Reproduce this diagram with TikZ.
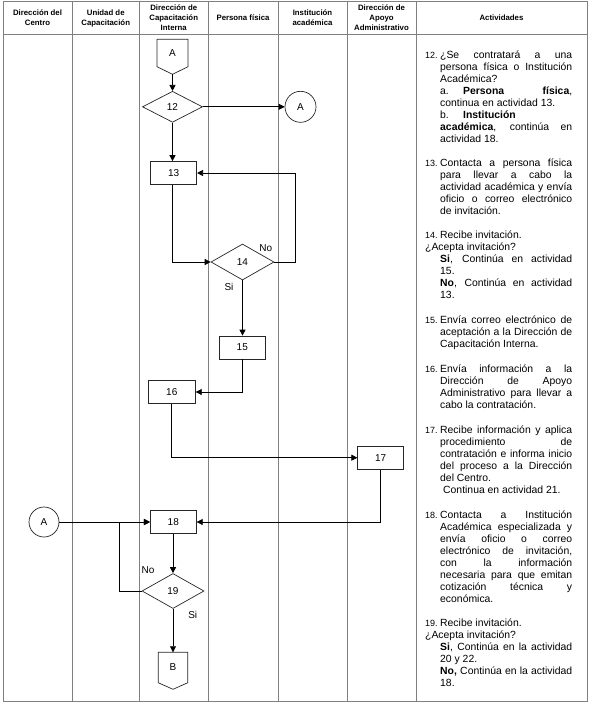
\documentclass[tikz,border=0pt]{standalone}
\usepackage{fontspec}
\setmainfont{Liberation Sans}
\usetikzlibrary{shapes.geometric,arrows.meta,calc}
\newcommand{\J}[1]{\makebox[132pt][s]{#1}}
\newcommand{\NumBox}[1]{\makebox[15pt][l]{\fontsize{9}{12}\selectfont #1}}
\newcommand{\Ind}{\hspace*{15pt}}
\begin{document}
\begin{tikzpicture}[x=1pt,y=-1pt,
  gridline/.style={draw=black!50, line width=0.8pt},
  hdr/.style={font=\fontsize{7.8}{10}\selectfont\bfseries, align=center, inner sep=0},
  act/.style={font=\fontsize{10.4}{12}\selectfont, align=left, inner sep=0, anchor=north west},
  procbox/.style={draw=black!85, line width=0.7pt, minimum width=46pt, minimum height=23pt, inner sep=0, font=\fontsize{10}{12}\selectfont},
  decision/.style={draw=black!85, shape=diamond, line width=0.7pt, inner sep=0, font=\fontsize{10}{12}\selectfont},
  connector/.style={draw=black!85, circle, line width=0.7pt, minimum size=31pt, inner sep=0, font=\fontsize{10}{12}\selectfont},
  shapeline/.style={draw=black!85, line width=0.7pt},
  flow/.style={draw=black, line width=0.7pt, -{Triangle[length=6pt,width=6pt]}},
  lbl/.style={font=\fontsize{10}{12}\selectfont, inner sep=0}
]
\useasboundingbox (0,0) rectangle (590,705);
% table
\draw[gridline] (3,1) rectangle (587,701);
\draw[gridline] (3,34.5) -- (587,34.5);
\foreach \x in {72,139.5,208,278,347,416} \draw[gridline] (\x,1) -- (\x,701);
% headers
\node[hdr] (h1) at (37.5,18) {Dirección del\\Centro};
\node[hdr] (h2) at (105.75,18) {Unidad de\\Capacitación};
\node[hdr] (h3) at (173.75,17.5) {Dirección de\\Capacitación\\Interna};
\node[hdr] (h4) at (243,18) {Persona física};
\node[hdr] (h5) at (312.5,18) {Institución\\académica};
\node[hdr] (h6) at (381.5,17.5) {Dirección de\\Apoyo\\Administrativo};
\node[hdr] (h7) at (501.5,18) {Actividades};

% shapes
\node[lbl] (offA) at (172.5,53) {A};
\draw[shapeline] (157,39.3) -- (188,39.3) -- (188,66.7) -- (172.5,74.3) -- (157,66.7) -- cycle;
\coordinate (offAtip) at (172.5,74.3);
\node[decision, minimum width=60pt, minimum height=31pt] (d12) at (172.5,106.8) {12};
\node[connector] (cA) at (300.5,106.8) {A};
\node[procbox] (b13) at (173.7,173) {13};
\node[decision, minimum width=63pt, minimum height=36pt] (d14) at (242.5,262) {14};
\node[procbox] (b15) at (242.3,347.5) {15};
\node[procbox, minimum width=47pt] (b16) at (171.8,392) {16};
\node[procbox] (b17) at (380.7,457.7) {17};
\node[procbox] (b18) at (173.3,522) {18};
\node[connector, minimum size=30pt] (cA2) at (44,522) {A};
\node[decision, minimum width=62pt, minimum height=35pt] (d19) at (173,591) {19};
\node[lbl] (offB) at (173,666.7) {B};
\draw[shapeline] (158.2,652.3) -- (187.8,652.3) -- (187.8,682.7) -- (173,689.3) -- (158.2,682.7) -- cycle;
\coordinate (offBtop) at (173,652.3);

% labels
\node[lbl] (no14) at (265.7,248.3) {No};
\node[lbl] (si14) at (229,286.7) {Si};
\node[lbl] (no19) at (148,570) {No};
\node[lbl] (si19) at (192.7,615) {Si};

% connectors
\draw[flow] (offAtip) -- (d12.north);
\draw[flow] (d12.east) -- (cA.west);
\draw[flow] (d12.south) -- (d12.south |- b13.north);
\draw[flow] (b13.south -| d12.south) |- (d14.west);
\draw[flow] (d14.east) -- ++(21,0) |- (b13.east);
\draw[flow] (d14.south) -- (d14.south |- b15.north);
\draw[flow] (b15.south) |- (b16.east);
\draw[flow] (b16.south) |- (b17.west);
\draw[flow] (b17.south) |- (b18.east);
\draw[flow] (cA2.east) -- (b18.west);
\draw[flow] (d19.west) -- ++(-22.5,0) |- (b18.west);
\draw[flow] (b18.south -| d19.north) -- (d19.north);
\draw[flow] (d19.south) -- (offBtop);

% activities
\node[act] (t12) at (425,50.1) {\strut\NumBox{12.}\J{¿Se contratará a una}\\
\Ind\J{persona física o Institución}\\
\Ind Académica?\\
\Ind\makebox[23pt][l]{a.}\makebox[109pt][s]{\textbf{Persona} \textbf{física},}\\
\Ind continua en actividad 13.\\
\Ind\makebox[23pt][l]{b.}\textbf{Institución}\\
\Ind\J{\textbf{académica}, continúa en}\\
\Ind actividad 18.};

\node[act] (t13) at (425,157.8) {\strut\NumBox{13.}\J{Contacta a persona física}\\
\Ind\J{para llevar a cabo la}\\
\Ind\J{actividad académica y envía}\\
\Ind\J{oficio o correo electrónico}\\
\Ind de invitación.};

\node[act] (t14) at (425,230.1) {\strut\NumBox{14.}Recibe invitación.\\
¿Acepta invitación?\\
\Ind\J{\textbf{Si}, Continúa en actividad}\\
\Ind 15.\\
\Ind\J{\textbf{No}, Continúa en actividad}\\
\Ind 13.};

\node[act] (t15) at (425,315.1) {\strut\NumBox{15.}\J{Envía correo electrónico de}\\
\Ind\J{aceptación a la Dirección de}\\
\Ind Capacitación Interna.};

\node[act] (t16) at (425,363.4) {\strut\NumBox{16.}\J{Envía información a la}\\
\Ind\J{Dirección de Apoyo}\\
\Ind\J{Administrativo para llevar a}\\
\Ind cabo la contratación.};

\node[act] (t17) at (425,425.1) {\strut\NumBox{17.}\J{Recibe información y aplica}\\
\Ind\J{procedimiento de}\\
\Ind\J{contratación e informa inicio}\\
\Ind\J{del proceso a la Dirección}\\
\Ind del Centro.\\
\Ind\hspace*{3pt}Continua en actividad 21.};

\node[act] (t18) at (425,509.4) {\strut\NumBox{18.}\J{Contacta a Institución}\\
\Ind\J{Académica especializada y}\\
\Ind\J{envía oficio o correo}\\
\Ind\J{electrónico de invitación,}\\
\Ind\J{con la información}\\
\Ind\J{necesaria para que emitan}\\
\Ind\J{cotización técnica y}\\
\Ind económica.};

\node[act] (t19) at (425,617.6) {\strut\NumBox{19.}Recibe invitación.\\
¿Acepta invitación?\\
\Ind\J{\textbf{Si}, Continúa en la actividad}\\
\Ind 20 y 22.\\
\Ind\J{\textbf{No,} Continúa en la actividad}\\
\Ind 18.};
\end{tikzpicture}
\end{document}
